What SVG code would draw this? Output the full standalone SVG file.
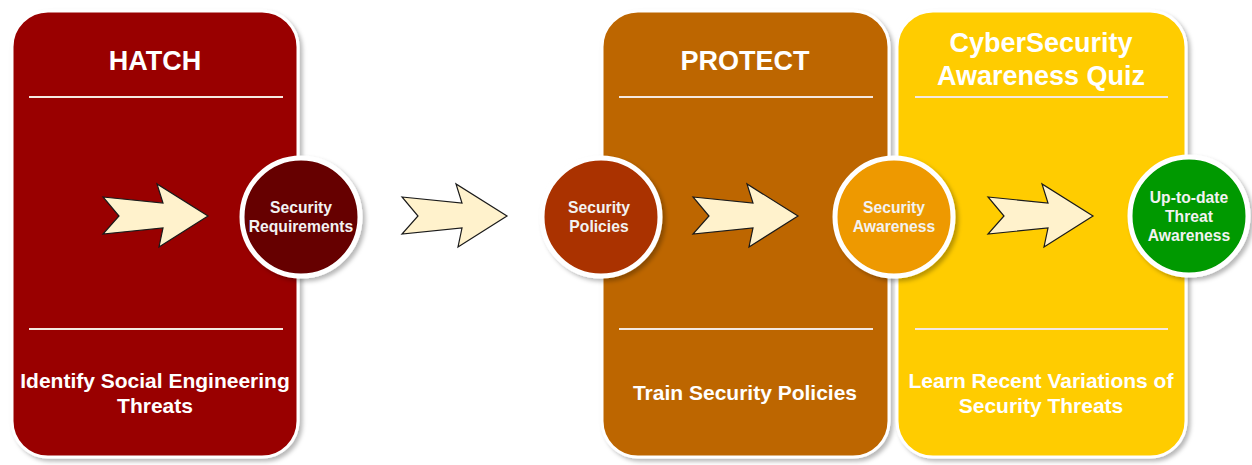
<svg xmlns="http://www.w3.org/2000/svg" width="1252" height="465" viewBox="0 0 1252 465">
  <defs>
    <filter id="shadow" x="-10%" y="-10%" width="125%" height="125%">
      <feDropShadow dx="3" dy="3" stdDeviation="2" flood-color="#000" flood-opacity="0.28"/>
    </filter>
    <polygon id="notched-arrow" points="0,0 60,6 54,-13 105,19 56,50 60,31 0,37 16,19"/>
  </defs>
  <style>
    .panel { stroke: #ffffff; stroke-width: 3; filter: url(#shadow); }
    .rule { stroke: #f4e8e0; stroke-width: 2; }
    .title { font-family: "Liberation Sans", Arial, sans-serif; font-weight: bold; font-size: 27px; fill: #ffffff; text-anchor: middle; }
    .desc { font-family: "Liberation Sans", Arial, sans-serif; font-weight: bold; font-size: 21px; fill: #ffffff; text-anchor: middle; }
    .stage { stroke: #ffffff; stroke-width: 5; filter: url(#shadow); }
    .stage-label { font-family: "Liberation Sans", Arial, sans-serif; font-weight: bold; font-size: 15.7px; fill: #f2f2f2; text-anchor: middle; }
    .flow { fill: #fff2cc; stroke: #1a1a1a; stroke-width: 1.2; stroke-linejoin: miter; }
  </style>

  <!-- Phase panels -->
  <g id="hatch">
    <rect class="panel" x="12" y="11" width="286" height="446" rx="36" ry="36" fill="#990000"/>
    <text class="title" x="155" y="70">HATCH</text>
    <line class="rule" x1="29" y1="97" x2="283" y2="97"/>
    <line class="rule" x1="29" y1="329" x2="283" y2="329"/>
    <text class="desc" x="155" y="388">Identify Social Engineering</text>
    <text class="desc" x="155" y="413">Threats</text>
  </g>

  <g id="protect">
    <rect class="panel" x="602" y="11" width="287" height="446" rx="36" ry="36" fill="#bd6600"/>
    <text class="title" x="745" y="70">PROTECT</text>
    <line class="rule" x1="619" y1="97" x2="873" y2="97"/>
    <line class="rule" x1="619" y1="329" x2="873" y2="329"/>
    <text class="desc" x="745" y="400">Train Security Policies</text>
  </g>

  <g id="quiz">
    <rect class="panel" x="897" y="11" width="289" height="446" rx="36" ry="36" fill="#ffcc00"/>
    <text class="title" x="1041" y="52">CyberSecurity</text>
    <text class="title" x="1041" y="85">Awareness Quiz</text>
    <line class="rule" x1="915" y1="97" x2="1168" y2="97"/>
    <line class="rule" x1="915" y1="329" x2="1168" y2="329"/>
    <text class="desc" x="1041" y="388">Learn Recent Variations of</text>
    <text class="desc" x="1041" y="413">Security Threats</text>
  </g>

  <!-- Flow arrows between stages -->
  <g id="connectors">
    <use href="#notched-arrow" class="flow" x="103" y="197"/>
    <use href="#notched-arrow" class="flow" x="402" y="197"/>
    <use href="#notched-arrow" class="flow" x="693" y="197"/>
    <use href="#notched-arrow" class="flow" x="988" y="197"/>
  </g>

  <!-- Stage outcomes -->
  <g id="security-requirements">
    <circle class="stage" cx="301" cy="217" r="59" fill="#660000"/>
    <text class="stage-label" x="301" y="213">Security</text>
    <text class="stage-label" x="301" y="232">Requirements</text>
  </g>

  <g id="security-policies">
    <circle class="stage" cx="601" cy="217" r="59" fill="#aa3300"/>
    <text class="stage-label" x="599" y="213">Security</text>
    <text class="stage-label" x="599" y="232">Policies</text>
  </g>

  <g id="security-awareness">
    <circle class="stage" cx="894" cy="217" r="59" fill="#ee9900"/>
    <text class="stage-label" x="894" y="213">Security</text>
    <text class="stage-label" x="894" y="232">Awareness</text>
  </g>

  <g id="up-to-date-awareness">
    <circle class="stage" cx="1189" cy="216" r="59" fill="#009900"/>
    <text class="stage-label" x="1189" y="203">Up-to-date</text>
    <text class="stage-label" x="1189" y="222">Threat</text>
    <text class="stage-label" x="1189" y="241">Awareness</text>
  </g>
</svg>
